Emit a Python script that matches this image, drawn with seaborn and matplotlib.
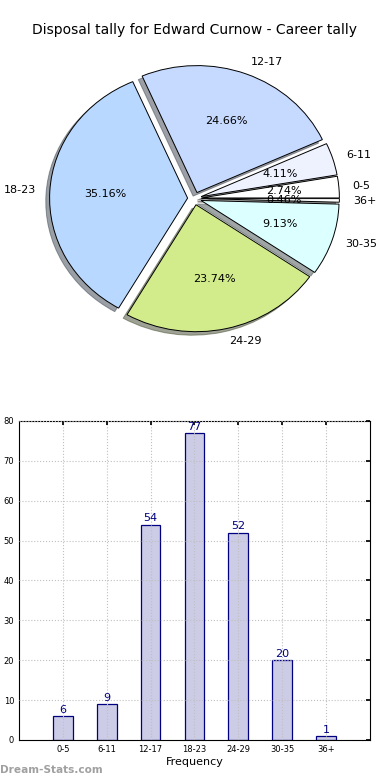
import numpy as np
import pandas as pd
import seaborn as sns
import matplotlib.pyplot as plt

# disposal tally per game, grouped
categories = ['0-5', '6-11', '12-17', '18-23', '24-29', '30-35', '36+']
games = [6, 9, 54, 77, 52, 20, 1]
pie_colors = ['#ffffff', '#eef2ff', '#c6d9ff', '#b8d8ff', '#d2ec8c', '#dcffff', '#ffffff']
y_ticks = [0, 10, 20, 30, 40, 50, 60, 70, 80]


def make_pie(fig):
    ax = fig.add_axes([0.0564, 0.542, 0.8846, 0.407])
    ax.pie(games, labels=categories, colors=pie_colors, explode=[0.05] * len(games),
           autopct='%1.2f%%', shadow=True, startangle=0,
           wedgeprops=dict(edgecolor='black', linewidth=0.7),
           textprops=dict(fontsize=8, color='black'))
    # the original pie is a bit wider than tall
    ax.set_aspect('auto')
    ax.set_xlim(-1.25, 1.25)
    ax.set_ylim(-1.25, 1.25)
    fig.text(0.5, 0.9615, 'Disposal tally for Edward Curnow - Career tally',
             ha='center', va='center', fontsize=10, color='black')


def make_bars(fig):
    ax = fig.add_axes([0.0487, 0.0513, 0.9, 0.409])
    df = pd.DataFrame({'group': categories, 'count': games})
    sns.barplot(data=df, x='group', y='count', color='#ccccE6', edgecolor='navy',
                linewidth=0.9, width=0.45, saturation=1, ax=ax)
    ax.bar_label(ax.containers[0], color='navy', fontsize=8, padding=1)
    ax.set_xlim(-1, 7)
    ax.set_ylim(0, 80)
    ax.set_yticks(y_ticks)
    ax.grid(True, linestyle=':', color='#c0c0c0', linewidth=0.8)
    ax.set_axisbelow(False)
    ax.tick_params(direction='in', top=True, right=True, labelsize=6, length=3,
                   colors='black')
    ax.set_xlabel('Frequency', fontsize=8, labelpad=2, color='black')
    ax.set_ylabel('')
    for s in ax.spines.values():
        s.set_color('black')
        s.set_linewidth(0.8)


sns.set_theme(style='white')
plt.rcParams['font.family'] = ['DejaVu Sans']
plt.rcParams['text.color'] = 'black'

fig = plt.figure(figsize=(3.9, 7.8), dpi=100)
make_pie(fig)
make_bars(fig)
fig.text(0.0, 0.0128, 'Dream-Stats.com', ha='left', va='center', fontsize=7.6,
         color='#a0a0a0', fontweight='bold')
fig.savefig('out.png', dpi=100)
